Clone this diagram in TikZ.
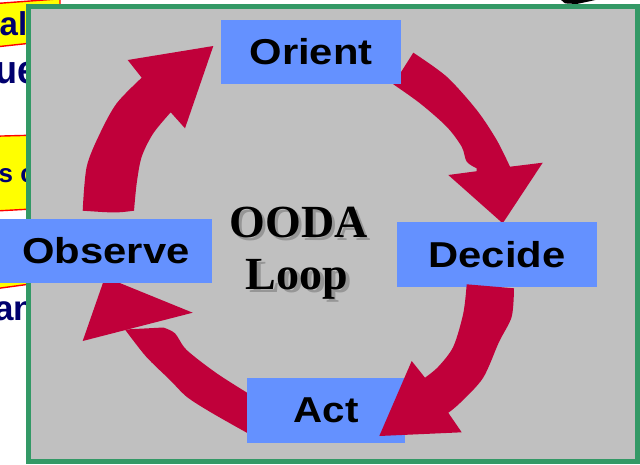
\documentclass[tikz,border=0pt]{standalone}
\usepackage{fontspec}
\setmainfont{Liberation Serif}
\newfontfamily\lblfont{Liberation Sans}
\definecolor{panelgray}{RGB}{192,192,192}
\definecolor{panelgreen}{RGB}{51,153,102}
\definecolor{boxblue}{RGB}{100,145,255}
\definecolor{arrowred}{RGB}{192,0,58}
\definecolor{navytext}{RGB}{0,0,110}
\definecolor{shadowgray}{RGB}{150,150,150}
\definecolor{noteyellow}{RGB}{255,255,0}
\definecolor{notered}{RGB}{255,0,0}
\tikzset{
  stagebox/.style={fill=boxblue, inner sep=0pt, font=\lblfont\bfseries\fontsize{36}{40}\selectfont, text=black},
  loopword/.style={anchor=base, inner sep=0pt, font=\rmfamily\bfseries\fontsize{46}{52}\selectfont},
  sidetext/.style={anchor=base west, inner sep=0pt, text=navytext, font=\lblfont\bfseries},
  note/.style={fill=noteyellow, draw=notered, line width=1.4pt},
  bigarrow/.style={fill=arrowred}
}
\begin{document}
\begin{tikzpicture}[x=1pt,y=-1pt]
\useasboundingbox (0,0) rectangle (640,464);
\fill[white] (0,0) rectangle (640,464);
% partially hidden material on the left
\draw[note] (-5,3.6) -- (60,-1.2) -- (60,40) -- (-5,47) -- cycle;
\draw[note] (-5,136.2) -- (60,134.5) -- (60,207.5) -- (-5,211) -- cycle;
\draw[note] (-5,250) -- (60,246) -- (60,280) -- (-5,288.8) -- cycle;
\node[sidetext, font=\lblfont\bfseries\fontsize{33}{36}\selectfont] (t1) at (-0.5,35) {al};
\node[sidetext, font=\lblfont\bfseries\fontsize{36}{40}\selectfont] (t2) at (-5,83) {\scalebox{1}[1.1]{ue}};
\node[sidetext, font=\lblfont\bfseries\fontsize{26}{30}\selectfont] (t3) at (-1.5,182) {s c};
\node[sidetext, font=\lblfont\bfseries\fontsize{35}{40}\selectfont] (t4) at (-6,320) {an};
\fill[black] (560,-1) -- (600,-1) -- (593,0.5) -- (586.7,1.9) -- (576.7,4) -- (565,3.4) -- cycle;
% panel
\draw[fill=panelgray, draw=panelgreen, line width=5.4pt] (28.5,6.3) rectangle (637.5,461.5);
% arrows below the boxes
\fill[bigarrow] plot[smooth] coordinates {(413.3,52.7) (446.7,76.7) (476.7,110) (496.7,140) (510,166.7)}
  -- (542.7,162.7) -- (502.7,223.3) -- (448.3,175) -- (476.7,171.2)
  -- plot[smooth] coordinates {(476.7,168.3) (466.7,161.7) (461.7,146.7) (446.7,126.7) (420,103.3) (393.3,84.3)} -- cycle;
\fill[bigarrow] plot[smooth] coordinates {(125,329.5) (146,356.5) (170,380) (187,397) (212,413) (250,434.5)}
  -- plot[smooth] coordinates {(250,394.5) (216.7,373.3) (186.7,350) (175,333.3) (163.3,327.5)} -- cycle;
\fill[bigarrow] (82.7,341) -- (105,277) -- (192.7,312.7) -- cycle;
\fill[bigarrow] plot[smooth] coordinates {(82.7,210.7) (86.7,166.7) (100,133.3) (116.7,103.3) (141.7,77.7)}
  -- (127.7,60) -- (213.3,46) -- (185,128.3)
  -- plot[smooth] coordinates {(170.7,112.3) (153.3,133.3) (141.7,156.7) (136.7,183.3) (134,210.7)}
  .. controls (116,213) .. (82.7,210.7) -- cycle;
% stage boxes
\node[stagebox, minimum width=180pt, minimum height=64pt] (orient) at (311,52) {\raisebox{-2pt}{\scalebox{1.16}[1]{Orient}}};
\node[stagebox, minimum width=212pt, minimum height=64pt] (observe) at (106,251) {\raisebox{-1.5pt}{\scalebox{1.16}[1]{Observe}}};
\node[stagebox, minimum width=200pt, minimum height=65pt] (decide) at (497,254.5) {\raisebox{-1.5pt}{\scalebox{1.16}[1]{Decide}}};
\node[stagebox, minimum width=158pt, minimum height=65pt] (act) at (326,410.5) {\raisebox{-2.5pt}{\scalebox{1.12}[1]{Act}}};
% arrow on top of boxes
\fill[bigarrow] (466.7,284.3) -- (514,288.3)
  -- plot[smooth] coordinates {(514,288.3) (511.7,316.7) (499,342) (483,378) (460,403) (448.3,412.8)}
  -- (461.7,432.3) -- (379.3,436) -- (411.7,361)
  -- plot[smooth] coordinates {(425,377.7) (438.3,366.7) (453.3,346.7) (463.3,313.3) (466.7,284.3)} -- cycle;
% title with shadow
\node[loopword, text=shadowgray] (oodashadow) at (301.5,240.5) {OODA};
\node[loopword, text=shadowgray] (loopshadow) at (300.5,292.5) {Loop};
\node[loopword, text=black] (ooda) at (298.5,237) {OODA};
\node[loopword, text=black] (loop) at (297,289) {Loop};
\end{tikzpicture}
\end{document}
